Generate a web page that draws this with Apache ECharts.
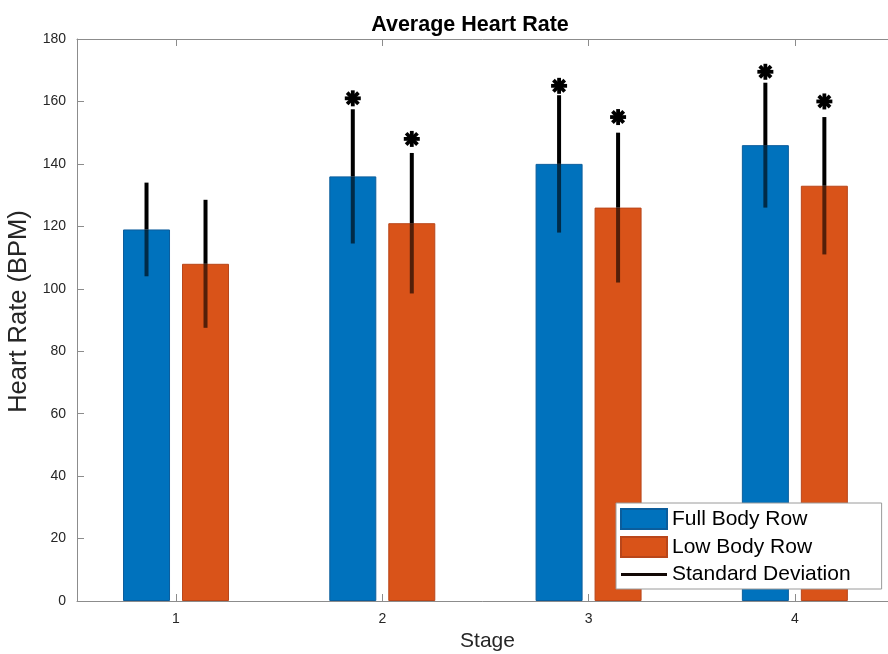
<!DOCTYPE html>
<html>
<head>
<meta charset="utf-8">
<title>Average Heart Rate</title>
<script src="https://cdn.jsdelivr.net/npm/echarts@6/dist/echarts.min.js"></script>
<style>
  html, body { margin: 0; padding: 0; background: #fff; }
  #chart { width: 888px; height: 654px; }
</style>
</head>
<body>
<div id="chart"></div>
<script>
// Stage positions and tick labels
var stages = [1, 2, 3, 4];
var stageLabels = ['1', '2', '3', '4'];
var yTicks = [0, 20, 40, 60, 80, 100, 120, 140, 160, 180];

// Mean heart rate (BPM) per stage
var fullBodyMean = [119, 136, 140, 146];
var lowBodyMean = [108, 121, 126, 133];

// Standard deviation per stage
var fullBodySD = [15, 21.5, 22, 20];
var lowBodySD = [20.5, 22.5, 24, 22];

// Heights of the significance asterisks (null = none)
var fullBodySig = [null, 161, 165, 169.5];
var lowBodySig = [null, 148, 155, 160];

var BLUE = '#0072BD';
var ORANGE = '#D95319';
var BAR_WIDTH = 47;
var BAR_GAP = 12;
var HALF_STEP = (BAR_WIDTH + BAR_GAP) / 2;
var FONT = '"Liberation Sans", Arial, Helvetica, sans-serif';

function pairs(xs, ys) {
  return xs.map(function (x, i) { return [x, ys[i]]; });
}

function errorData(means, sds) {
  return stages.map(function (x, i) { return [x, means[i], sds[i]]; });
}

function sigData(heights) {
  var out = [];
  stages.forEach(function (x, i) {
    if (heights[i] != null) out.push([x, heights[i]]);
  });
  return out;
}

// Vertical error bar: solid above the bar top, darker-through-bar below it
function errorRenderer(offset) {
  return function (params, api) {
    var x = api.value(0), m = api.value(1), s = api.value(2);
    var top = api.coord([x, m + s]);
    var mid = api.coord([x, m]);
    var bot = api.coord([x, m - s]);
    var px = top[0] + offset;
    return {
      type: 'group',
      children: [
        { type: 'line', shape: { x1: px, y1: top[1], x2: px, y2: mid[1] },
          style: { stroke: '#000', lineWidth: 4 } },
        { type: 'line', shape: { x1: px, y1: mid[1], x2: px, y2: bot[1] },
          style: { stroke: 'rgba(0,0,0,0.62)', lineWidth: 4 } }
      ]
    };
  };
}

// Eight-armed asterisk marker
function starRenderer(offset) {
  return function (params, api) {
    var p = api.coord([api.value(0), api.value(1)]);
    var cx = p[0] + offset, cy = p[1], r = 8;
    var kids = [];
    for (var k = 0; k < 4; k++) {
      var a = k * Math.PI / 4;
      var dx = Math.cos(a) * r, dy = Math.sin(a) * r;
      kids.push({ type: 'line',
        shape: { x1: cx - dx, y1: cy - dy, x2: cx + dx, y2: cy + dy },
        style: { stroke: '#000', lineWidth: 3.8 } });
    }
    return { type: 'group', children: kids };
  };
}

var axisGray = '#8c8c8c';

var option = {
  backgroundColor: '#fff',
  animation: false,
  title: {
    text: 'Average Heart Rate',
    left: 465,
    textAlign: 'center',
    top: 9,
    textStyle: { fontFamily: FONT, fontSize: 21.5, fontWeight: 'bold', color: '#000' }
  },
  legend: {
    orient: 'vertical',
    left: 616,
    top: 503,
    data: [
      { name: 'Full Body Row', icon: 'rect' },
      { name: 'Low Body Row', icon: 'rect' },
      { name: 'Standard Deviation', icon: 'path://M0,0H46V3H0Z' }
    ],
    itemWidth: 46,
    itemHeight: 20,
    itemGap: 6,
    padding: [5, 31, 4, 4],
    backgroundColor: '#fff',
    borderColor: '#9a9a9a',
    borderWidth: 1,
    borderRadius: 0,
    selectedMode: false,
    textStyle: { fontFamily: FONT, fontSize: 21, color: '#000' }
  },
  grid: { left: 77, right: -10, top: 39, bottom: 53, containLabel: false, outerBoundsMode: 'none' },
  xAxis: [
    {
      type: 'value',
      min: 0.52,
      max: 4.5,
      position: 'bottom',
      name: 'Stage',
      nameLocation: 'middle',
      nameGap: 28,
      nameTextStyle: { fontFamily: FONT, fontSize: 21, color: '#262626' },
      axisLine: { show: true, onZero: false, lineStyle: { color: axisGray, width: 1 } },
      axisTick: { show: true, inside: true, length: 7, customValues: stages,
        lineStyle: { color: axisGray } },
      axisLabel: { show: true, customValues: stages, margin: 11,
        fontFamily: FONT, fontSize: 14, color: '#262626',
        formatter: function (v) { return stageLabels[stages.indexOf(Math.round(v))] || ''; } },
      splitLine: { show: false }
    },
    {
      type: 'value',
      min: 0.52,
      max: 4.5,
      position: 'top',
      axisLine: { show: true, onZero: false, lineStyle: { color: axisGray, width: 1 } },
      axisTick: { show: true, inside: true, length: 7, customValues: stages,
        lineStyle: { color: axisGray } },
      axisLabel: { show: false },
      splitLine: { show: false }
    }
  ],
  yAxis: {
    type: 'value',
    min: yTicks[0],
    max: yTicks[yTicks.length - 1],
    interval: yTicks[1] - yTicks[0],
    name: 'Heart Rate (BPM)',
    nameLocation: 'middle',
    nameGap: 37,
    nameTextStyle: { fontFamily: FONT, fontSize: 25.5, color: '#262626', padding: [0, 0, 0, 17] },
    axisLine: { show: true, lineStyle: { color: axisGray, width: 1 } },
    axisTick: { show: true, inside: true, length: 7, lineStyle: { color: axisGray } },
    axisLabel: { margin: 11, fontFamily: FONT, fontSize: 14, color: '#262626' },
    splitLine: { show: false }
  },
  series: [
    {
      name: 'Full Body Row',
      type: 'bar',
      data: pairs(stages, fullBodyMean),
      barWidth: BAR_WIDTH,
      barGap: (BAR_GAP / BAR_WIDTH * 100).toFixed(1) + '%',
      itemStyle: { color: BLUE, borderColor: '#0b5d9c', borderWidth: 1 }
    },
    {
      name: 'Low Body Row',
      type: 'bar',
      data: pairs(stages, lowBodyMean),
      barWidth: BAR_WIDTH,
      barGap: (BAR_GAP / BAR_WIDTH * 100).toFixed(1) + '%',
      itemStyle: { color: ORANGE, borderColor: '#b9461a', borderWidth: 1 }
    },
    {
      name: 'Standard Deviation',
      type: 'custom',
      data: [],
      renderItem: function () { return null; },
      itemStyle: { color: '#120805' }
    },
    {
      name: 'fullSD',
      type: 'custom',
      renderItem: errorRenderer(-HALF_STEP),
      data: errorData(fullBodyMean, fullBodySD),
      encode: { x: 0, y: [1] },
      z: 5
    },
    {
      name: 'lowSD',
      type: 'custom',
      renderItem: errorRenderer(HALF_STEP),
      data: errorData(lowBodyMean, lowBodySD),
      encode: { x: 0, y: [1] },
      z: 5
    },
    {
      name: 'fullSig',
      type: 'custom',
      renderItem: starRenderer(-HALF_STEP),
      data: sigData(fullBodySig),
      z: 6
    },
    {
      name: 'lowSig',
      type: 'custom',
      renderItem: starRenderer(HALF_STEP),
      data: sigData(lowBodySig),
      z: 6
    }
  ]
};

var chart = echarts.init(document.getElementById('chart'), null, { renderer: 'canvas' });
chart.setOption(option);
</script>
</body>
</html>
